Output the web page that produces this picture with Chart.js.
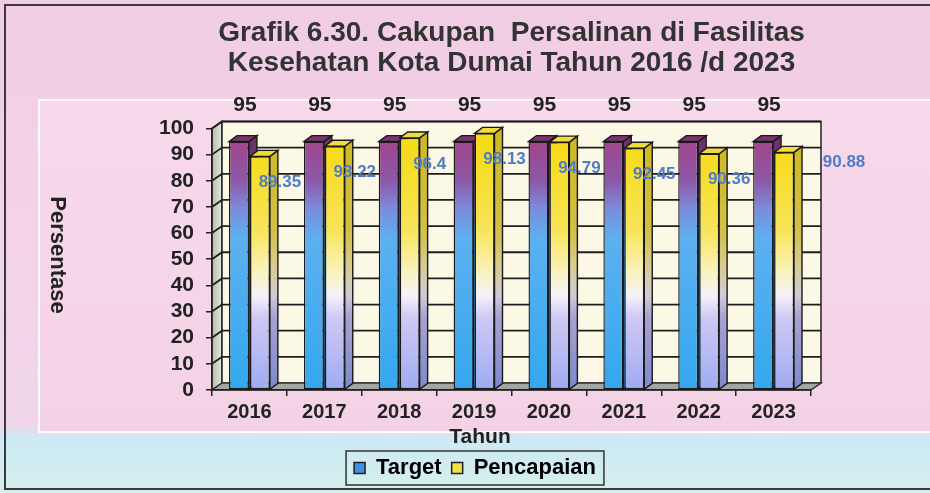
<!DOCTYPE html>
<html lang="id">
<head>
<meta charset="UTF-8">
<title>Grafik 6.30 Cakupan Persalinan di Fasilitas Kesehatan Kota Dumai</title>
<style>
    html, body { margin: 0; padding: 0; }
    body { width: 930px; height: 493px; overflow: hidden; background: #f3d2e7; }
    canvas { display: block; }
</style>
</head>
<body>
<canvas id="chart" width="930" height="493"></canvas>

<script src="https://cdn.jsdelivr.net/npm/chart.js@4"></script>
<script>
    // data
    const tahun = ['2016', '2017', '2018', '2019', '2020', '2021', '2022', '2023'];
    const target = [95, 95, 95, 95, 95, 95, 95, 95];
    const pencapaian = [89.35, 93.22, 96.4, 98.13, 94.79, 92.45, 90.36, 90.88];
    const yTicks = [0, 10, 20, 30, 40, 50, 60, 70, 80, 90, 100];

    const FONT = '"Liberation Sans", Arial, sans-serif';
    const DX = 10, DY = -7;   // depth of the 3d box

    function poly(ctx, pts, fill, stroke, lw) {
        ctx.beginPath();
        ctx.moveTo(pts[0][0], pts[0][1]);
        for (let i = 1; i < pts.length; i++) ctx.lineTo(pts[i][0], pts[i][1]);
        ctx.closePath();
        if (fill) { ctx.fillStyle = fill; ctx.fill(); }
        if (stroke) { ctx.strokeStyle = stroke; ctx.lineWidth = lw || 1.5; ctx.stroke(); }
    }

    function vGrad(ctx, area, stops) {
        const g = ctx.createLinearGradient(0, area.top, 0, area.bottom);
        stops.forEach(s => g.addColorStop(s[0], s[1]));
        return g;
    }

    const targetStops = [[0, '#9a3f86'], [0.05, '#a0468a'], [0.2, '#8c58a8'], [0.3, '#7d8ad8'], [0.42, '#5cb0f0'], [1, '#33a8ee']];
    const capaiStops = [[0, '#f5da18'], [0.1, '#f5dc1e'], [0.39, '#f8e45a'], [0.54, '#faf2b8'], [0.64, '#f6f2fa'], [0.72, '#cfc9f5'], [1, '#9fabf2']];
    const targetSideStops = [[0, '#6e2c62'], [0.2, '#634080'], [0.3, '#5a68a8'], [0.42, '#4088c0'], [1, '#2a80c0']];
    const capaiSideStops = [[0, '#cdb820'], [0.39, '#d2bf48'], [0.54, '#d8cc98'], [0.64, '#cfcbd8'], [0.72, '#a8a2d0'], [1, '#7e88cc']];

    function barFill(stops) {
        return function (c) {
            const a = c.chart.chartArea;
            if (!a) return stops[0][1];
            return vGrad(c.chart.ctx, a, stops);
        };
    }

    const box3d = {
        id: 'box3d',
        beforeDraw(chart) {
            const ctx = chart.ctx;
            const W = chart.width, H = chart.height;
            ctx.save();
            // page background
            const bg = ctx.createLinearGradient(0, 0, 0, H);
            bg.addColorStop(0, '#f1cde4');
            bg.addColorStop(0.5, '#f4d3e8');
            bg.addColorStop(0.86, '#f0d6ea');
            bg.addColorStop(0.89, '#cdeaf5');
            bg.addColorStop(1, '#d4efec');
            ctx.fillStyle = bg;
            ctx.fillRect(0, 0, W, H);
            // inner panel
            const pg = ctx.createLinearGradient(0, 100, 0, 432);
            pg.addColorStop(0, '#f7d9ec');
            pg.addColorStop(1, '#f4d2e6');
            ctx.fillStyle = pg;
            ctx.fillRect(39, 100, W, 332);
            ctx.strokeStyle = 'rgba(255,255,255,0.9)';
            ctx.lineWidth = 2;
            ctx.strokeRect(39, 100, W, 332);
            // frame
            ctx.strokeStyle = '#3a3a3a';
            ctx.lineWidth = 2;
            ctx.beginPath();
            ctx.moveTo(W, 5); ctx.lineTo(5, 5); ctx.lineTo(5, 489); ctx.lineTo(W, 489);
            ctx.stroke();

            // walls, floor and grid
            const a = chart.chartArea, y = chart.scales.y;
            const L = a.left, R = a.right, T = a.top, B = a.bottom;
            const lw = ctx.createLinearGradient(L, 0, L + DX, 0);
            lw.addColorStop(0, '#b4bcb0');
            lw.addColorStop(1, '#e4e8dc');
            poly(ctx, [[L, T], [L + DX, T + DY], [L + DX, B + DY], [L, B]], lw, '#222', 1.5);
            poly(ctx, [[L + DX, T + DY], [R + DX, T + DY], [R + DX, B + DY], [L + DX, B + DY]], '#fcf8e6', '#222', 1.5);
            ctx.strokeStyle = '#1e1e1e';
            ctx.lineWidth = 1.8;
            yTicks.forEach(v => {
                if (v === 0) return;
                const py = y.getPixelForValue(v);
                ctx.beginPath();
                ctx.moveTo(L, py);
                ctx.lineTo(L + DX, py + DY);
                ctx.lineTo(R + DX, py + DY);
                ctx.stroke();
            });
            poly(ctx, [[L, B], [R, B], [R + DX, B + DY], [L + DX, B + DY]], '#a4a4a4', '#333', 1.5);
            ctx.restore();
        },
        beforeDatasetsDraw(chart) {
            // side and top faces, fronts are drawn by chart.js afterwards
            const ctx = chart.ctx, a = chart.chartArea;
            const sides = [vGrad(ctx, a, targetSideStops), vGrad(ctx, a, capaiSideStops)];
            const tops = ['#7c3470', '#f2dc3a'];
            ctx.save();
            chart.data.datasets.forEach((ds, di) => {
                chart.getDatasetMeta(di).data.forEach(bar => {
                    const l = bar.x - bar.width / 2, r = bar.x + bar.width / 2;
                    const t = bar.y, b = bar.base;
                    poly(ctx, [[r, t], [r + DX * 0.8, t + DY * 0.85], [r + DX * 0.8, b + DY * 0.85], [r, b]], sides[di], '#1a1a1a', 1.4);
                    poly(ctx, [[l, t], [r, t], [r + DX * 0.8, t + DY * 0.85], [l + DX * 0.8, t + DY * 0.85]], tops[di], '#1a1a1a', 1.4);
                });
            });
            ctx.restore();
        },
        afterDatasetsDraw(chart) {
            const ctx = chart.ctx, a = chart.chartArea;
            ctx.save();
            ctx.textAlign = 'center';
            ctx.textBaseline = 'middle';
            ctx.font = 'bold 21px ' + FONT;
            ctx.fillStyle = '#222';
            chart.getDatasetMeta(0).data.forEach((bar, i) => {
                ctx.fillText(String(target[i]), bar.x + 6, a.top - 23);
            });
            ctx.font = 'bold 17px ' + FONT;
            ctx.fillStyle = '#4f7cc8';
            chart.getDatasetMeta(1).data.forEach((bar, i) => {
                const last = i === pencapaian.length - 1;
                ctx.fillText(String(pencapaian[i]), bar.x + (last ? 60 : 20), bar.y + (last ? 10 : 26));
            });
            ctx.restore();
        },
        afterDraw(chart) {
            const ctx = chart.ctx;
            ctx.save();
            // axis titles
            ctx.fillStyle = '#222';
            ctx.font = 'bold 21px ' + FONT;
            ctx.textAlign = 'center';
            ctx.textBaseline = 'middle';
            ctx.fillText('Tahun', 480, 437);
            ctx.font = 'bold 22px ' + FONT;
            ctx.translate(57, 255);
            ctx.rotate(Math.PI / 2);
            ctx.fillText('Persentase', 0, 0);
            ctx.restore();
            // legend frame
            const lg = chart.legend;
            if (lg && lg.legendHitBoxes.length) {
                const hb = lg.legendHitBoxes;
                const x0 = Math.min(...hb.map(h => h.left)) - 8;
                const x1 = Math.max(...hb.map(h => h.left + h.width)) + 8;
                const y0 = Math.min(...hb.map(h => h.top)) - 6;
                const y1 = Math.max(...hb.map(h => h.top + h.height)) + 6;
                ctx.save();
                ctx.strokeStyle = '#333';
                ctx.lineWidth = 1.5;
                ctx.strokeRect(x0, y0, x1 - x0, y1 - y0);
                ctx.restore();
            }
        }
    };

    new Chart(document.getElementById('chart'), {
        type: 'bar',
        data: {
            labels: tahun,
            datasets: [{
                label: 'Target',
                data: target,
                backgroundColor: barFill(targetStops),
                borderColor: '#1a1a1a',
                borderWidth: 1.4,
                borderSkipped: false,
                categoryPercentage: 0.56,
                barPercentage: 0.95
            }, {
                label: 'Pencapaian',
                data: pencapaian,
                backgroundColor: barFill(capaiStops),
                borderColor: '#1a1a1a',
                borderWidth: 1.4,
                borderSkipped: false,
                categoryPercentage: 0.56,
                barPercentage: 0.95
            }]
        },
        options: {
            responsive: false,
            animation: false,
            layout: { padding: { left: 139, right: 119, top: 0, bottom: 4 } },
            plugins: {
                title: {
                    display: true,
                    fullSize: false,
                    text: ['Grafik 6.30. Cakupan  Persalinan di Fasilitas', 'Kesehatan Kota Dumai Tahun 2016 /d 2023'],
                    color: '#333',
                    font: { family: FONT, size: 28, weight: 'bold', lineHeight: 1.08 },
                    padding: { top: 18, bottom: 50 }
                },
                legend: {
                    position: 'bottom',
                    labels: {
                        color: '#222',
                        font: { family: FONT, size: 22, weight: 'bold' },
                        boxWidth: 11,
                        boxHeight: 11,
                        padding: 10,
                        generateLabels: () => [
                            { text: 'Target', fillStyle: '#3d8fe0', strokeStyle: '#222', lineWidth: 1.5, datasetIndex: 0 },
                            { text: 'Pencapaian', fillStyle: '#f2e04a', strokeStyle: '#222', lineWidth: 1.5, datasetIndex: 1 }
                        ]
                    }
                },
                tooltip: { enabled: false }
            },
            scales: {
                x: {
                    grid: { drawOnChartArea: false, drawTicks: true, tickLength: 6, color: '#222', lineWidth: 1.5 },
                    border: { color: '#222', width: 1.5 },
                    ticks: { color: '#222', font: { family: FONT, size: 20, weight: 'bold' }, padding: 4 },
                    afterFit(scale) { scale.height = 57; }
                },
                y: {
                    min: 0,
                    max: 100,
                    afterBuildTicks(scale) { scale.ticks = yTicks.map(v => ({ value: v })); },
                    grid: { drawOnChartArea: false, drawTicks: true, tickLength: 6, color: '#222', lineWidth: 1.5 },
                    border: { color: '#222', width: 1.5 },
                    ticks: { color: '#222', font: { family: FONT, size: 21, weight: 'bold' }, padding: 12, autoSkip: false },
                    afterFit(scale) { scale.width = 73; }
                }
            }
        },
        plugins: [box3d]
    });
</script>
</body>
</html>
